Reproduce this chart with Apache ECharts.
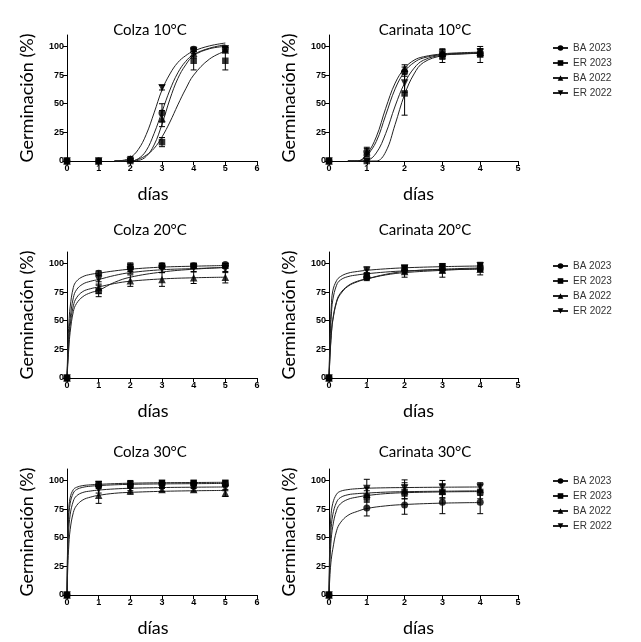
<!DOCTYPE html>
<html>
<head>
<meta charset="utf-8">
<script src="https://cdn.jsdelivr.net/npm/echarts@6/dist/echarts.min.js"></script>
<style>
  html, body { margin: 0; padding: 0; background: #fff; }
  #main { width: 641px; height: 642px; }
</style>
</head>
<body>
<div id="main"></div>
<script>
// series order everywhere: BA 2023, ER 2023, BA 2022, ER 2022
var groups = ['BA 2023', 'ER 2023', 'BA 2022', 'ER 2022'];
var titles = ['Colza 10°C', 'Carinata 10°C', 'Colza 20°C', 'Carinata 20°C', 'Colza 30°C', 'Carinata 30°C'];
var yTicks = [0, 25, 50, 75, 100];
var daysColza = [0, 1, 2, 3, 4, 5];
var daysCarinata = [0, 1, 2, 3, 4];

// mean germination (%) per day
var colza10 = [[0, 0, 1, 42, 97.5, 98], [0, 0, 0, 16.5, 87.5, 87.5], [0, 0, 2, 37, 94, 97], [0, 0, 0, 64, 96, 98]];
var colza10Err = [[0, 0, 1, 8, 2, 2], [0, 0, 0, 4, 8, 8], [0, 0, 2, 7, 4, 2], [0, 0, 0, 2, 2, 1]];
var carinata10 = [[0, 8, 78, 93, 94], [0, 0, 59, 92, 93], [0, 8, 81, 94, 95], [0, 0, 68, 93, 95]];
var carinata10Err = [[0, 4, 4, 4, 3], [0, 0, 19, 6, 7], [0, 3, 3, 3, 3], [0, 0, 8, 4, 3]];
var colza20 = [[0, 91.5, 96, 98, 98, 99], [0, 76, 97.5, 98, 98, 98], [0, 79, 85, 86, 87.5, 88], [0, 86, 94, 95, 96, 95]];
var colza20Err = [[0, 2, 3, 2, 2, 1], [0, 5, 3, 2, 2, 2], [0, 5, 5, 6, 5, 5], [0, 4, 3, 3, 3, 3]];
var carinata20 = [[0, 88, 94, 95, 96], [0, 89, 96, 96, 96], [0, 91, 93, 94, 95], [0, 94, 96, 97, 98]];
var carinata20Err = [[0, 3, 3, 3, 3], [0, 3, 2, 2, 2], [0, 4, 5, 6, 5], [0, 3, 2, 2, 3]];
var colza30 = [[0, 96, 96, 97, 97, 97], [0, 97, 97, 98, 98, 98], [0, 87, 91, 92, 92, 89], [0, 92, 94, 95, 95, 93]];
var colza30Err = [[0, 3, 3, 2, 2, 2], [0, 2, 3, 2, 2, 2], [0, 7, 3, 2, 2, 3], [0, 3, 3, 2, 2, 2]];
var carinata30 = [[0, 76, 78.5, 81, 81], [0, 86, 90, 90, 90], [0, 88, 91, 91, 92], [0, 93, 93.5, 94, 94]];
var carinata30Err = [[0, 7, 8, 10, 10], [0, 5, 6, 6, 6], [0, 6, 7, 6, 5], [0, 8, 7, 6, 4]];

// fitted curves at these days
var colza10FitX = [1.5, 1.75, 2, 2.25, 2.5, 2.75, 3, 3.25, 3.5, 3.75, 4, 4.5, 5];
var colza10Fit = [
  [0, 0, 0, 2, 9, 24, 43, 62, 77, 87, 93, 98.5, 101.5],
  [0, 0, 0, 1.5, 5, 11, 21, 34, 49, 63, 75, 89, 96],
  [0, 0, 0, 0.5, 4, 14, 32, 54, 72, 84, 92, 98, 100],
  [0, 0.5, 3, 10, 23, 42, 62, 76, 86, 92, 96, 100.5, 103]
];
var carinata10FitX = [0.5, 0.75, 1, 1.25, 1.5, 1.75, 2, 2.25, 2.5, 3, 3.5, 4];
var carinata10Fit = [
  [0, 0, 5, 17, 40, 63, 78, 86, 90, 93, 94, 94.5],
  [0, 0, 0, 0, 8, 32, 58, 76, 86, 92, 93.5, 94],
  [0, 0, 6, 21, 46, 68, 81, 88, 91, 93.5, 94.5, 95],
  [0, 0, 0.5, 7, 24, 48, 68, 81, 88, 92.5, 93.5, 94]
];
var colza20FitX = [0, 0.03, 0.06, 0.1, 0.2, 0.3, 0.5, 0.75, 1, 1.5, 2, 3, 4, 5];
var colza20Fit = [
  [0, 30, 48, 62, 79, 84.5, 88.5, 90.5, 91.5, 93.5, 95, 96.8, 97.6, 98.2],
  [0, 14, 27, 40, 58, 65, 71, 74.5, 76.5, 83.5, 88, 92.5, 95, 96.5],
  [0, 18, 33, 46, 63, 70, 75.5, 78, 79.5, 82.5, 84.5, 86.5, 87.5, 88],
  [0, 22, 38, 52, 70, 77, 82, 84.5, 86, 89.5, 92, 94.5, 95.5, 96.5]
];
var carinata20FitX = [0, 0.03, 0.06, 0.1, 0.2, 0.3, 0.5, 0.75, 1, 1.5, 2, 3, 4];
var carinata20Fit = [
  [0, 22, 38, 51, 67, 74, 80.5, 84.5, 86.5, 90, 92, 94, 95.5],
  [0, 21, 37, 50, 66, 73, 80, 84, 86.5, 90.5, 93, 95, 96],
  [0, 33, 54, 68, 81, 85.5, 88.5, 90, 91, 92.5, 93.5, 94.5, 95],
  [0, 40, 62, 76, 85, 88.5, 91.5, 93, 94, 95.3, 96.2, 97.2, 97.8]
];
var colza30FitX = [0, 0.02, 0.05, 0.1, 0.2, 0.3, 0.5, 0.75, 1, 1.5, 2, 3, 4, 5];
var colza30Fit = [
  [0, 40, 66, 80, 89, 92, 94, 95, 95.5, 96.2, 96.6, 97, 97.2, 97.4],
  [0, 45, 72, 85, 92, 94, 95.5, 96.2, 96.6, 97.2, 97.6, 98, 98.2, 98.4],
  [0, 20, 40, 57, 72, 78, 83, 85.5, 87, 88.8, 89.6, 90.5, 91, 91.3],
  [0, 30, 54, 70, 82, 86.5, 89.5, 90.8, 91.6, 92.6, 93.2, 93.8, 94.1, 94.3]
];
var carinata30FitX = [0, 0.02, 0.05, 0.1, 0.2, 0.3, 0.5, 0.75, 1, 1.5, 2, 3, 4];
var carinata30Fit = [
  [0, 14, 28, 40, 56, 63, 69.5, 73, 75.5, 77.8, 79, 80.2, 80.7],
  [0, 25, 45, 60, 74, 79.5, 83.5, 85.5, 86.8, 88.5, 89.3, 90, 90.3],
  [0, 33, 55, 70, 81, 85, 87.5, 88.5, 89, 89.8, 90.2, 90.6, 90.9],
  [0, 45, 68, 80, 88, 90.5, 92, 92.8, 93.2, 93.6, 93.8, 94.1, 94.3]
];

var panels = [
  { days: daysColza, xMax: 6, mean: colza10, err: colza10Err, fitX: colza10FitX, fit: colza10Fit },
  { days: daysCarinata, xMax: 5, mean: carinata10, err: carinata10Err, fitX: carinata10FitX, fit: carinata10Fit },
  { days: daysColza, xMax: 6, mean: colza20, err: colza20Err, fitX: colza20FitX, fit: colza20Fit },
  { days: daysCarinata, xMax: 5, mean: carinata20, err: carinata20Err, fitX: carinata20FitX, fit: carinata20Fit },
  { days: daysColza, xMax: 6, mean: colza30, err: colza30Err, fitX: colza30FitX, fit: colza30Fit },
  { days: daysCarinata, xMax: 5, mean: carinata30, err: carinata30Err, fitX: carinata30FitX, fit: carinata30Fit }
];

// layout
var gridLefts = [67, 329], gridWidths = [190, 189];
var gridTops = [35, 252, 469], gridHeight = 126;
var titleX = [150, 425], titleY = [30, 230, 452];
var legendTops = [38, 256, 471];
var markers = ['circle', 'rect', 'triangle', 'triangle'];
var rotates = [0, 0, 0, 180];
var sizes = [7, 6.5, 7.5, 7.5];
var sansFont = 'Lato';
var tickFont = 'Liberation Sans';

function renderErrorBar(params, api) {
  var x = api.value(0), y = api.value(1), e = api.value(2);
  if (!e) return null;
  var hi = api.coord([x, y + e]);
  var lo = api.coord([x, y - e]);
  var w = 3;
  var st = { stroke: '#000', lineWidth: 1 };
  return {
    type: 'group',
    children: [
      { type: 'line', shape: { x1: hi[0], y1: hi[1], x2: lo[0], y2: lo[1] }, style: st },
      { type: 'line', shape: { x1: hi[0] - w, y1: hi[1], x2: hi[0] + w, y2: hi[1] }, style: st },
      { type: 'line', shape: { x1: lo[0] - w, y1: lo[1], x2: lo[0] + w, y2: lo[1] }, style: st }
    ]
  };
}

var option = {
  animation: false,
  backgroundColor: '#fff',
  grid: [], xAxis: [], yAxis: [], series: [], legend: [], graphic: []
};

panels.forEach(function (p, i) {
  var row = Math.floor(i / 2), col = i % 2;
  option.grid.push({ left: gridLefts[col], top: gridTops[row], width: gridWidths[col], height: gridHeight });
  option.xAxis.push({
    type: 'value', gridIndex: i, min: 0, max: p.xMax, interval: 1,
    name: 'días', nameLocation: 'middle', nameGap: 24,
    nameTextStyle: { fontFamily: sansFont, fontSize: 18, color: '#000', padding: [0, col ? 10 : 18, 0, 0] },
    axisLine: { show: true, onZero: false, lineStyle: { color: '#000', width: 1 } },
    axisTick: { show: true, length: 4, lineStyle: { color: '#000' } },
    axisLabel: { fontFamily: tickFont, fontSize: 9, fontWeight: 'bold', color: '#000', margin: 3 },
    splitLine: { show: false }
  });
  option.yAxis.push({
    type: 'value', gridIndex: i, min: 0, max: 110, interval: 25,
    name: 'Germinación (%)', nameLocation: 'middle', nameGap: 31,
    nameTextStyle: { fontFamily: sansFont, fontSize: 18, color: '#000' },
    axisLine: { show: true, lineStyle: { color: '#000', width: 1 } },
    axisTick: { show: true, length: 4, customValues: yTicks, lineStyle: { color: '#000' } },
    axisLabel: { customValues: yTicks, fontFamily: tickFont, fontSize: 9, fontWeight: 'bold', color: '#000', margin: 3 },
    splitLine: { show: false }
  });
  option.graphic.push({
    type: 'text', x: titleX[col], y: titleY[row], silent: true,
    style: { text: titles[i], fontFamily: sansFont, fontSize: 15, fill: '#000', align: 'center', verticalAlign: 'middle' }
  });

  groups.forEach(function (g, k) {
    // fitted curve
    option.series.push({
      type: 'line', name: g, xAxisIndex: i, yAxisIndex: i,
      data: p.fitX.map(function (x, j) { return [x, p.fit[k][j]]; }),
      smooth: 0.4, showSymbol: false,
      symbol: markers[k], symbolRotate: rotates[k], symbolSize: sizes[k],
      lineStyle: { color: '#222', width: 1 }, itemStyle: { color: '#000' },
      silent: true, z: 2
    });
    // error bars
    option.series.push({
      type: 'custom', name: g, xAxisIndex: i, yAxisIndex: i,
      data: p.days.map(function (d, j) { return [d, p.mean[k][j], p.err[k][j]]; }),
      encode: { x: 0, y: 1 }, renderItem: renderErrorBar, silent: true, z: 3
    });
    // means
    option.series.push({
      type: 'scatter', name: g, xAxisIndex: i, yAxisIndex: i,
      data: p.days.map(function (d, j) { return [d, p.mean[k][j]]; }),
      symbol: markers[k], symbolRotate: rotates[k], symbolSize: sizes[k],
      itemStyle: { color: '#000' }, clip: false, z: 4
    });
  });
});

legendTops.forEach(function (top) {
  option.legend.push({
    orient: 'vertical', left: 547, top: top, data: groups,
    itemWidth: 15, itemHeight: 7, itemGap: 5, selectedMode: false,
    textStyle: { fontFamily: tickFont, fontSize: 10, color: '#333' }
  });
});

var myChart = echarts.init(document.getElementById('main'));
myChart.setOption(option);
</script>
</body>
</html>
